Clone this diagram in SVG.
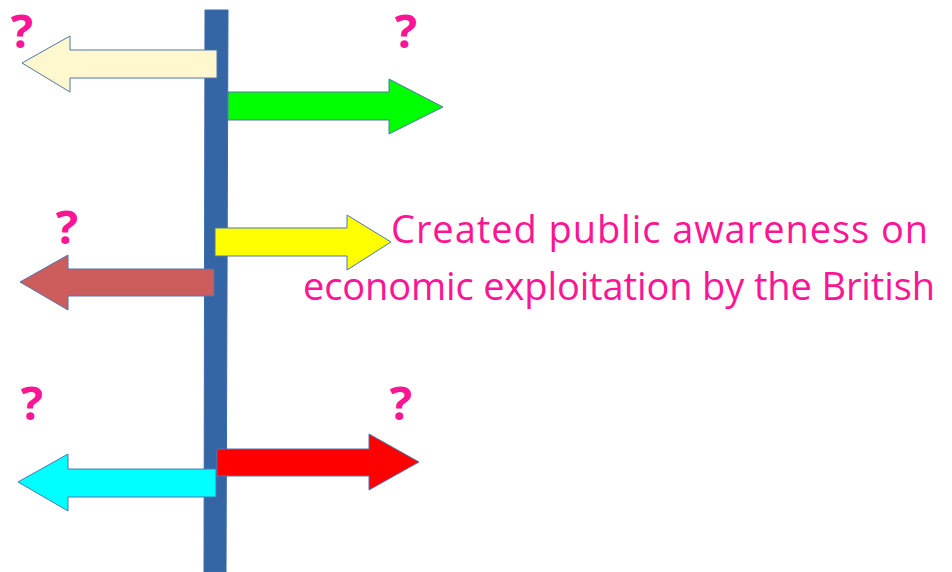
<svg xmlns="http://www.w3.org/2000/svg" width="952" height="572" viewBox="0 0 952 572">
<style>
.arrow{stroke:#4F76B0;stroke-width:1;stroke-linejoin:miter}
.q{font-family:"Open Sans","Noto Sans",sans-serif;font-weight:bold;font-size:47px;fill:#FF1493;text-anchor:middle}
.t{font-family:"Open Sans","Noto Sans",sans-serif;font-size:38px;fill:#FF1493}
</style>
<rect width="952" height="572" fill="#FFFFFF"/>
<g id="bar">
<polygon points="205,10 228,10 226,572 204,572" fill="#3465A4" stroke="#3A6AAA" stroke-width="1"/>
</g>
<g id="connectors">
<g id="arrow-cream"><polygon class="arrow" fill="#FFF8CF" points="217,50 70,50 70,36 22,63 70,92 70,78 217,78"/></g>
<g id="arrow-green"><polygon class="arrow" fill="#00FF00" points="228,92 389,92 389,79 443,107 389,134 389,120 228,120"/></g>
<g id="arrow-yellow"><polygon class="arrow" fill="#FFFF00" points="215,228 347,228 347,215 391,242 347,270 347,256 215,256"/></g>
<g id="arrow-brown"><polygon class="arrow" fill="#CD5C5C" points="214,269 68,269 68,255 20,282 68,310 68,296 214,296"/></g>
<g id="arrow-cyan"><polygon class="arrow" fill="#00FFFF" points="216,469 68,469 68,454 18,482 68,511 68,497 216,497"/></g>
<g id="arrow-red"><polygon class="arrow" fill="#FF0000" points="217,449 369,449 369,434 419,462 369,490 369,476 217,476"/></g>
</g>
<g id="q1"><text class="q" x="22" y="48">?</text></g>
<g id="q2"><text class="q" x="406" y="48">?</text></g>
<g id="q3"><text class="q" x="67" y="244">?</text></g>
<g id="q4"><text class="q" x="32" y="420">?</text></g>
<g id="q5"><text class="q" x="401" y="420">?</text></g>
<g id="label">
<text class="t" x="391" y="243" textLength="537" lengthAdjust="spacing">Created public awareness on</text>
<text class="t" x="303" y="300" textLength="632" lengthAdjust="spacing">economic exploitation by the British</text>
</g>
</svg>
